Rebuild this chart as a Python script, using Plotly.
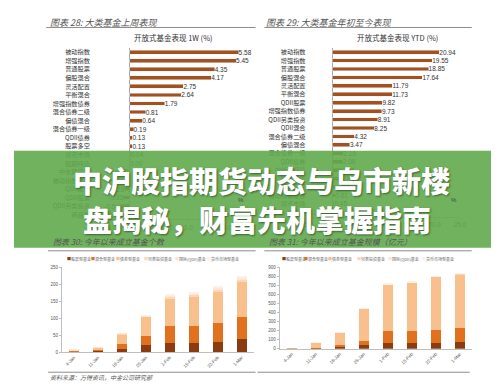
import plotly.graph_objects as go

W, H = 499, 384

# ---------------- data ----------------
cats_1w = ["被动指数", "增强指数", "普通股票", "偏股混合", "灵活配置", "平衡混合", "增强指数债券",
           "混合债券二级", "偏债混合", "混合债券一级", "QDII债券", "股票多空", "货币市场", "短期纯债",
           "中长期纯债", "被动指数债券", "QDII混合", "QDII股票", "QDII另类投资", "商品型"]
vals_1w = [5.58, 5.45, 4.35, 4.17, 2.75, 2.64, 1.79, 0.81, 0.64, 0.19, 0.13, 0.13, 0.04, 0.00,
           -0.05, -0.12, -0.28, -0.33, -0.54, -0.85]

cats_ytd = ["被动指数", "增强指数", "普通股票", "偏股混合", "灵活配置", "平衡混合", "QDII股票",
            "增强指数债券", "QDII另类投资", "QDII混合", "混合债券二级", "偏债混合", "混合债券一级",
            "QDII债券", "中长期纯债", "短期纯债", "股票多空", "被动指数债券", "货币市场", "商品型"]
vals_ytd = [20.94, 19.55, 18.85, 17.64, 11.79, 11.73, 9.82, 9.73, 8.91, 8.25, 4.32, 3.47, 2.19,
            2.08, 1.95, 1.80, 0.98, 0.61, 0.45, -1.20]

weeks = ["4-Jan", "11-Jan", "18-Jan", "25-Jan", "1-Feb", "15-Feb", "22-Feb", "1-Mar"]
series_names = ["股票型基金", "混合型基金", "债券型基金", "另类投资基金", "国际(QDII)基金", "货币市场型基金"]

count_stock = [1, 3, 10, 22, 28, 28, 29, 39]
count_mixed = [2, 5, 14, 25, 50, 50, 57, 65]
count_bond = [2, 4, 28, 57, 80, 85, 93, 104]
count_alt = [0, 1, 1, 1, 4, 4, 4, 4]
count_qdii = [1, 1, 1, 1, 5, 6, 6, 6]
count_money = [0, 0, 0, 1, 3, 3, 3, 3]

size_stock = [1, 1, 18, 47, 60, 60, 65, 70]
size_mixed = [1, 3, 27, 43, 140, 140, 145, 160]
size_bond = [2, 58, 130, 347, 505, 525, 580, 590]
size_alt = [0, 1, 1, 2, 3, 3, 3, 3]
size_qdii = [0, 1, 1, 2, 4, 4, 4, 4]
size_money = [0, 1, 1, 1, 3, 3, 3, 3]

banner_line1 = "中沪股指期货动态与乌市新楼"
banner_line2 = "盘揭秘，财富先机掌握指南"

# ---------------- styles ----------------
BAR_BROWN = "#A3521F"
STACK_COLORS = ["#8A3B0F", "#E1711E", "#F8C08C", "#FAD7B8", "#FCE6D4", "#FDF1E7"]
FONT = "Arial, 'Noto Sans CJK SC', sans-serif"
CJK = "'Noto Sans CJK SC', Arial, sans-serif"


def fx(p):
    return p / W


def fy(p):
    return 1 - p / H


fig = go.Figure()

fig.add_trace(go.Bar(
    orientation="h", x=vals_1w, y=cats_1w, marker_color=BAR_BROWN, width=0.45,
    text=[f"{v:.2f}" for v in vals_1w], textposition="outside", cliponaxis=False,
    constraintext="none", textfont=dict(size=6.5, color="#333", family=FONT),
    xaxis="x", yaxis="y", showlegend=False))

fig.add_trace(go.Bar(
    orientation="h", x=vals_ytd, y=cats_ytd, marker_color=BAR_BROWN, width=0.45,
    text=[f"{v:.2f}" for v in vals_ytd], textposition="outside", cliponaxis=False,
    constraintext="none", textfont=dict(size=6.5, color="#333", family=FONT),
    xaxis="x2", yaxis="y2", showlegend=False))

count_series = [count_stock, count_mixed, count_bond, count_alt, count_qdii, count_money]
size_series = [size_stock, size_mixed, size_bond, size_alt, size_qdii, size_money]
for name, vals, col in zip(series_names, count_series, STACK_COLORS):
    fig.add_trace(go.Bar(x=weeks, y=vals, name=name, marker_color=col, width=0.42,
                         marker_line_width=0, xaxis="x3", yaxis="y3", showlegend=False))
for name, vals, col in zip(series_names, size_series, STACK_COLORS):
    fig.add_trace(go.Bar(x=weeks, y=vals, name=name, marker_color=col, width=0.42,
                         marker_line_width=0, xaxis="x4", yaxis="y4", showlegend=False))

axis_line = "#BFBFBF"
tick_font_small = dict(size=4.5, color="#555", family=FONT)

fig.update_layout(
    width=W, height=H, margin=dict(l=0, r=0, t=0, b=0),
    paper_bgcolor="white", plot_bgcolor="white", barmode="stack",
    font=dict(family=FONT),
    xaxis=dict(domain=[fx(79), fx(239)], range=[-2, 6], tick0=0, dtick=1, tickformat=".1f",
               showgrid=False, zeroline=True, zerolinecolor="#A6A6A6", zerolinewidth=1,
               showline=True, linecolor=axis_line, ticks="outside", ticklen=2, tickcolor=axis_line,
               tickfont=dict(size=6.5, color="#444"), anchor="y"),
    yaxis=dict(domain=[fy(211.7), fy(38.4)], type="category", categoryarray=cats_1w,
               range=[19.5, -0.5], showgrid=False, zeroline=False, showline=False,
               tickfont=dict(size=6.2, color="#333", family=CJK), anchor="x"),
    xaxis2=dict(domain=[fx(300.4), fx(458)], range=[-5, 25], tick0=0, dtick=5, tickformat=".1f",
                showgrid=False, zeroline=True, zerolinecolor="#A6A6A6", zerolinewidth=1,
                showline=True, linecolor=axis_line, ticks="outside", ticklen=2, tickcolor=axis_line,
                tickfont=dict(size=6.5, color="#444"), anchor="y2"),
    yaxis2=dict(domain=[fy(209.3), fy(38.4)], type="category", categoryarray=cats_ytd,
                range=[19.5, -0.5], showgrid=False, zeroline=False, showline=False,
                tickfont=dict(size=6.2, color="#333", family=CJK), anchor="x2"),
    xaxis3=dict(domain=[fx(49.3), fx(246)], type="category", categoryarray=weeks,
                showgrid=False, showline=True, linecolor=axis_line, tickangle=-45,
                tickfont=tick_font_small, anchor="y3"),
    yaxis3=dict(domain=[fy(346.7), fy(260.7)], range=[0, 250], dtick=50, showgrid=False,
                zeroline=False, showline=True, linecolor=axis_line, ticks="outside", ticklen=2,
                tickcolor=axis_line, tickfont=tick_font_small, anchor="x3"),
    xaxis4=dict(domain=[fx(272.7), fx(470)], type="category", categoryarray=weeks,
                showgrid=False, showline=True, linecolor=axis_line, tickangle=-45,
                tickfont=tick_font_small, anchor="y4"),
    yaxis4=dict(domain=[fy(343.3), fy(260.7)], range=[0, 900], dtick=100, showgrid=False,
                zeroline=False, showline=True, linecolor=axis_line, ticks="outside", ticklen=2,
                tickcolor=axis_line, tickfont=tick_font_small, anchor="x4"),
)

shapes = []


def hline(x0, x1, y, color="#8C8C8C", width=1):
    shapes.append(dict(type="line", xref="paper", yref="paper", x0=fx(x0), x1=fx(x1),
                       y0=fy(y), y1=fy(y), line=dict(color=color, width=width)))


hline(33, 248, 17.7)
hline(257, 470, 17.7)
hline(35, 248, 244)
hline(257, 470, 244)
hline(35, 248, 367)
hline(250, 468, 367)

# banner
shapes.append(dict(type="rect", xref="paper", yref="paper", x0=0, x1=1, y0=fy(241), y1=fy(142.7),
                   fillcolor="rgba(96,170,76,0.9)", line=dict(width=0), layer="above"))

annotations = []


def note(text, x, y, size, color="#333", xanchor="left", italic=False, family=CJK, **kw):
    f = dict(size=size, color=color, family=family)
    if italic:
        f["style"] = "italic"
    f.update(kw.pop("fontextra", {}))
    annotations.append(dict(text=text, x=fx(x), y=fy(y), xref="paper", yref="paper",
                            xanchor=xanchor, yanchor="middle", showarrow=False, font=f, **kw))


note("图表 28: 大类基金上周表现", 35, 12.5, 9, color="#555", italic=True)
note("图表 29: 大类基金年初至今表现", 257, 12.5, 9, color="#555", italic=True)
note("开放式基金表现 1W (%)", 164, 28, 7.5, xanchor="center")
note("开放式基金表现 YTD (%)", 394, 28, 7.5, xanchor="center")
note("%", 233, 193, 6, color="#444", xanchor="center", family=FONT)
note("%", 452, 193, 6, color="#444", xanchor="center", family=FONT)
note("图表 30: 今年以来成立基金个数", 38, 235, 8, color="#555", italic=True)
note("图表 31: 今年以来成立基金规模（亿元）", 260, 235, 8, color="#555", italic=True)
note("资料来源：万得资讯，中金公司研究部", 35, 372, 6, color="#555", italic=True)

legend_x_left = [52, 77, 103, 131, 163, 196]
legend_x_right = [273, 296, 320, 350, 382, 417]
for xs in (legend_x_left, legend_x_right):
    for x, name, col in zip(xs, series_names, STACK_COLORS):
        note(f"<span style='color:{col}'>■</span>{name}", x, 252, 4, color="#666")

shadow = "1px 1px 2px rgba(0,0,0,0.45)"
note(banner_line1, 254, 172, 29, color="white", xanchor="center",
     fontextra=dict(weight=900, shadow=shadow))
note(banner_line2, 249, 212, 29, color="white", xanchor="center",
     fontextra=dict(weight=900, shadow=shadow))

fig.update_layout(shapes=shapes, annotations=annotations)

fig.write_html("out.html")
